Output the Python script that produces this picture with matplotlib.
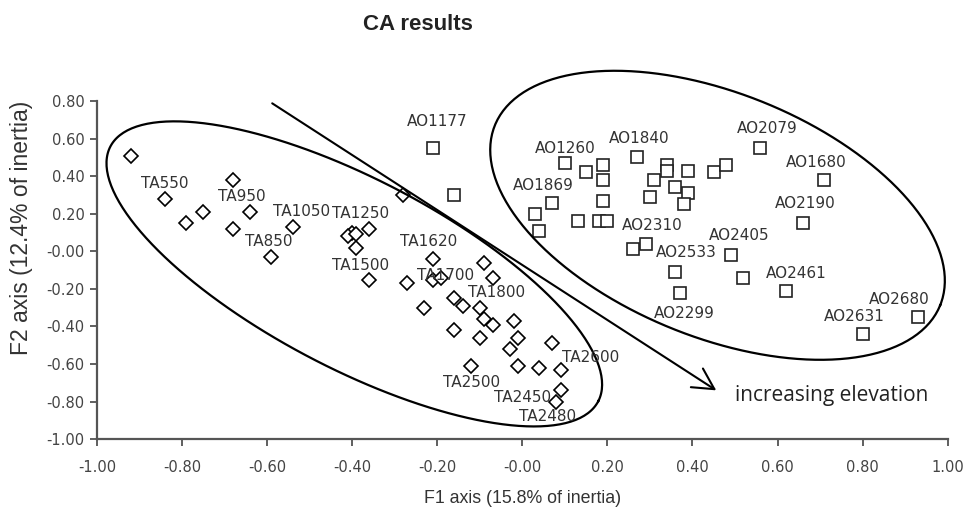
import numpy as np
import matplotlib
matplotlib.use('Agg')
import matplotlib.pyplot as plt

# TA sites (diamonds)
ta_x = [-0.92, -0.84, -0.79, -0.75, -0.68, -0.64, -0.68, -0.54, -0.59,
        -0.28, -0.40, -0.41, -0.39, -0.36, -0.39, -0.36,
        -0.21, -0.27, -0.21, -0.19, -0.09, -0.07, -0.16, -0.14, -0.23,
        -0.10, -0.09, -0.07, -0.16, -0.10, -0.02, -0.01, -0.03, 0.07,
        -0.12, -0.01, 0.04, 0.09, 0.09, 0.08]
ta_y = [0.51, 0.28, 0.15, 0.21, 0.38, 0.21, 0.12, 0.13, -0.03,
        0.30, 0.10, 0.08, 0.09, 0.12, 0.02, -0.15,
        -0.04, -0.17, -0.15, -0.14, -0.06, -0.14, -0.25, -0.29, -0.30,
        -0.30, -0.36, -0.39, -0.42, -0.46, -0.37, -0.46, -0.52, -0.49,
        -0.61, -0.61, -0.62, -0.63, -0.74, -0.80]

# AO sites (squares)
ao_x = [-0.21, -0.16, 0.10, 0.15, 0.19, 0.19, 0.19, 0.07, 0.03, 0.04,
        0.13, 0.18, 0.20, 0.27, 0.34, 0.34, 0.31, 0.30, 0.36, 0.39,
        0.39, 0.38, 0.45, 0.48, 0.26, 0.29, 0.36, 0.37, 0.49, 0.56,
        0.71, 0.66, 0.52, 0.62, 0.80, 0.93]
ao_y = [0.55, 0.30, 0.47, 0.42, 0.46, 0.38, 0.27, 0.26, 0.20, 0.11,
        0.16, 0.16, 0.16, 0.50, 0.46, 0.43, 0.38, 0.29, 0.34, 0.43,
        0.31, 0.25, 0.42, 0.46, 0.01, 0.04, -0.11, -0.22, -0.02, 0.55,
        0.38, 0.15, -0.14, -0.21, -0.44, -0.35]

# sample names and where they are written
ta_names = ['TA550', 'TA950', 'TA1050', 'TA850', 'TA1250', 'TA1500', 'TA1620',
            'TA1700', 'TA1800', 'TA2500', 'TA2450', 'TA2480', 'TA2600']
ta_lx = [-0.84, -0.66, -0.52, -0.595, -0.38, -0.38, -0.22,
         -0.18, -0.06, -0.12, 0.0, 0.06, 0.16]
ta_ly = [0.36, 0.29, 0.21, 0.05, 0.20, -0.075, 0.05,
         -0.13, -0.22, -0.70, -0.78, -0.88, -0.565]

ao_names = ['AO1177', 'AO1260', 'AO1840', 'AO1869', 'AO2310', 'AO2533', 'AO2079',
            'AO1680', 'AO2190', 'AO2405', 'AO2461', 'AO2680', 'AO2631', 'AO2299']
ao_lx = [-0.20, 0.10, 0.275, 0.05, 0.305, 0.385, 0.575,
         0.69, 0.665, 0.51, 0.645, 0.887, 0.78, 0.38]
ao_ly = [0.69, 0.55, 0.60, 0.35, 0.14, -0.005, 0.655,
         0.475, 0.255, 0.085, -0.12, -0.255, -0.345, -0.33]

# group ellipses: centre and two conjugate half-axes (data units)
left_c, left_u, left_v = (-0.395, -0.12), (0.574, -0.676), (-0.10, -0.45)
right_c, right_u, right_v = (0.459, 0.192), (0.5235, -0.479), (-0.1076, -0.602)

# elevation arrow
arrow_start = (-0.588, 0.788)
arrow_end = (0.456, -0.74)


def ellipse(ax, c, u, v):
    t = np.linspace(0, 2 * np.pi, 300)
    x = c[0] + u[0] * np.cos(t) + v[0] * np.sin(t)
    y = c[1] + u[1] * np.cos(t) + v[1] * np.sin(t)
    ax.plot(x, y, color='black', lw=1.6, clip_on=False)


fig = plt.figure(figsize=(9.65, 5.21), dpi=100)
ax = fig.add_axes([0.1005, 0.157, 0.8815, 0.649])

ax.plot(ta_x, ta_y, 'D', ms=6.8, mfc='white', mec='black', mew=1.2, clip_on=False)
ax.plot(ao_x, ao_y, 's', ms=8.7, mfc='white', mec='#222222', mew=1.2, clip_on=False)

for n, x, y in zip(ta_names, ta_lx, ta_ly):
    ax.text(x, y, n, ha='center', va='center', fontsize=11, color='#333333')
for n, x, y in zip(ao_names, ao_lx, ao_ly):
    ax.text(x, y, n, ha='center', va='center', fontsize=11, color='#333333')

ellipse(ax, left_c, left_u, left_v)
ellipse(ax, right_c, right_u, right_v)

ax.annotate('', xy=arrow_end, xytext=arrow_start,
            arrowprops=dict(arrowstyle='->,head_length=1.5,head_width=0.8',
                            lw=1.5, color='black', shrinkA=0, shrinkB=0))
ax.text(0.501, -0.767, 'increasing elevation', ha='left', va='center',
        fontsize=15, family='Open Sans', color='#222222')

ax.set_xlim(-1, 1)
ax.set_ylim(-1, 0.8)
ax.set_xticks(np.arange(-1, 1.01, 0.2))
ax.set_yticks(np.arange(-1, 0.81, 0.2))
ax.xaxis.set_major_formatter(matplotlib.ticker.FormatStrFormatter('%.2f'))
ax.yaxis.set_major_formatter(matplotlib.ticker.FormatStrFormatter('%.2f'))
ax.tick_params(direction='out', length=5, width=1.2, labelsize=10.5,
               labelcolor='#444444', colors='#444444')
ax.tick_params(axis='x', pad=10)
ax.tick_params(axis='y', pad=4)
for s in ['top', 'right']:
    ax.spines[s].set_visible(False)
for s in ['left', 'bottom']:
    ax.spines[s].set_linewidth(1.6)
    ax.spines[s].set_color('#555555')

ax.set_xlabel('F1 axis (15.8% of inertia)', fontsize=12.8, family='Liberation Sans',
              color='#333333', labelpad=11)
fig.text(22 / 965, 1 - 228 / 521, 'F2 axis (12.4% of inertia)', rotation=90,
         ha='center', va='center', fontsize=16.5, family='Liberation Sans',
         color='#333333')

fig.text(418 / 965, 1 - 25 / 521, 'CA results', ha='center', va='center',
         fontsize=16, fontweight='bold', family='Liberation Sans', color='#222222')

fig.savefig('out.png', dpi=100)
